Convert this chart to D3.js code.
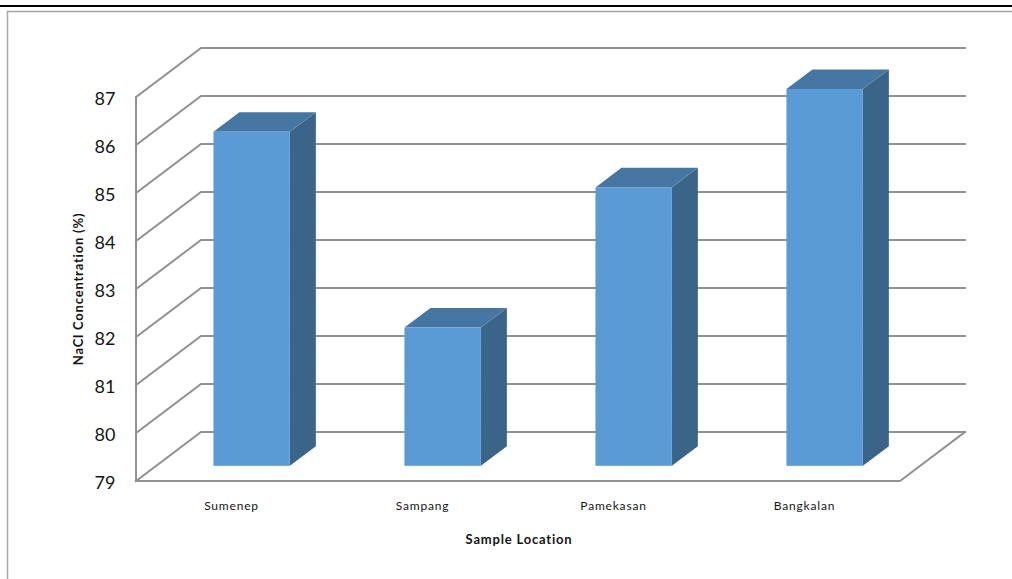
<!DOCTYPE html>
<html>
<head>
<meta charset="utf-8">
<script src="https://cdn.jsdelivr.net/npm/d3@7"></script>
<style>
html,body{margin:0;padding:0;background:#fff;}
svg{display:block;}
text{font-family:Lato,"Open Sans",sans-serif;fill:#151515;}
</style>
</head>
<body>
<svg id="chart" width="1012" height="579"></svg>
<script>
const categories = ["Sumenep", "Sampang", "Pamekasan", "Bangkalan"];
const concentration = [85.96, 81.88, 84.8, 86.85];
const tickValues = [79, 80, 81, 82, 83, 84, 85, 86, 87];
const xTitle = "Sample Location";
const yTitle = "NaCl Concentration (%)";

const svg = d3.select("#chart");

// Front plane of the oblique box, and the shift from front to back wall.
const y = d3.scaleLinear().domain([79, 87]).range([481, 97]);
const x = d3.scaleBand().domain(categories).range([136, 900]).paddingInner(0.6).paddingOuter(0.3);
const depthX = 65, depthY = 49;
const barNear = 0.31, barFar = 0.71;   // bar position along the depth of the box

// Page rules: heavy rule at the top, thin frame round the chart.
svg.append("rect").attr("x", 0).attr("y", 5).attr("width", 1012).attr("height", 2).attr("fill", "#000");
svg.append("path").attr("d", "M7.5,579V11.5H1012").attr("fill", "none").attr("stroke", "#a6a6a6").attr("stroke-width", 1.5);

const wall = svg.append("g").attr("fill", "none").attr("stroke", "#929292").attr("stroke-width", 2).attr("stroke-linecap", "square");

// Gridlines run up the side wall and along the back wall.
wall.selectAll("path.grid").data(tickValues).join("path")
  .attr("class", "grid")
  .attr("d", v => d3.line()([[136, y(v)], [136 + depthX, y(v) - depthY], [900 + depthX, y(v) - depthY]]));

// Front vertical of the side wall, floor front edge and floor right edge.
wall.append("path").attr("d", d3.line()([[136, y(87)], [136, y(79)], [900, y(79)], [900 + depthX, y(79) - depthY]]));

// Bars: front, top and side faces.
const bars = svg.append("g").selectAll("g").data(categories.map((c, i) => ({c, v: concentration[i]}))).join("g");
const bw = x.bandwidth();
const bx = d => x(d.c) + depthX * barNear;
const baseY = y(79) - depthY * barNear;
const topY = d => y(d.v) - depthY * barNear;
const dx = depthX * (barFar - barNear), dy = depthY * (barFar - barNear);

bars.append("path").attr("fill", "#3a6488")
  .attr("d", d => d3.line()([[bx(d) + bw, topY(d)], [bx(d) + bw + dx, topY(d) - dy], [bx(d) + bw + dx, baseY - dy], [bx(d) + bw, baseY]]) + "Z");
bars.append("path").attr("fill", "#4676a2")
  .attr("d", d => d3.line()([[bx(d), topY(d)], [bx(d) + dx, topY(d) - dy], [bx(d) + bw + dx, topY(d) - dy], [bx(d) + bw, topY(d)]]) + "Z");
bars.append("rect").attr("fill", "#5b9bd5")
  .attr("x", bx).attr("y", topY).attr("width", bw).attr("height", d => baseY - topY(d));

// Value labels on the vertical axis.
svg.append("g").selectAll("text").data(tickValues).join("text")
  .attr("x", 115.5).attr("y", v => y(v) + 8).attr("text-anchor", "end")
  .attr("font-size", 18).text(v => v);

// Category labels.
svg.append("g").selectAll("text").data(categories).join("text")
  .attr("x", c => x(c) + bw / 2).attr("y", 510).attr("text-anchor", "middle")
  .attr("font-size", 12).attr("letter-spacing", 0.8).text(c => c);

// Axis titles.
svg.append("text").attr("x", 519).attr("y", 544).attr("text-anchor", "middle")
  .attr("font-size", 13).attr("font-weight", 700).attr("letter-spacing", 0.8).text(xTitle);
svg.append("text").attr("transform", "translate(83,289) rotate(-90)").attr("text-anchor", "middle")
  .attr("font-size", 13).attr("font-weight", 700).attr("letter-spacing", 0.8).text(yTitle);
</script>
</body>
</html>
